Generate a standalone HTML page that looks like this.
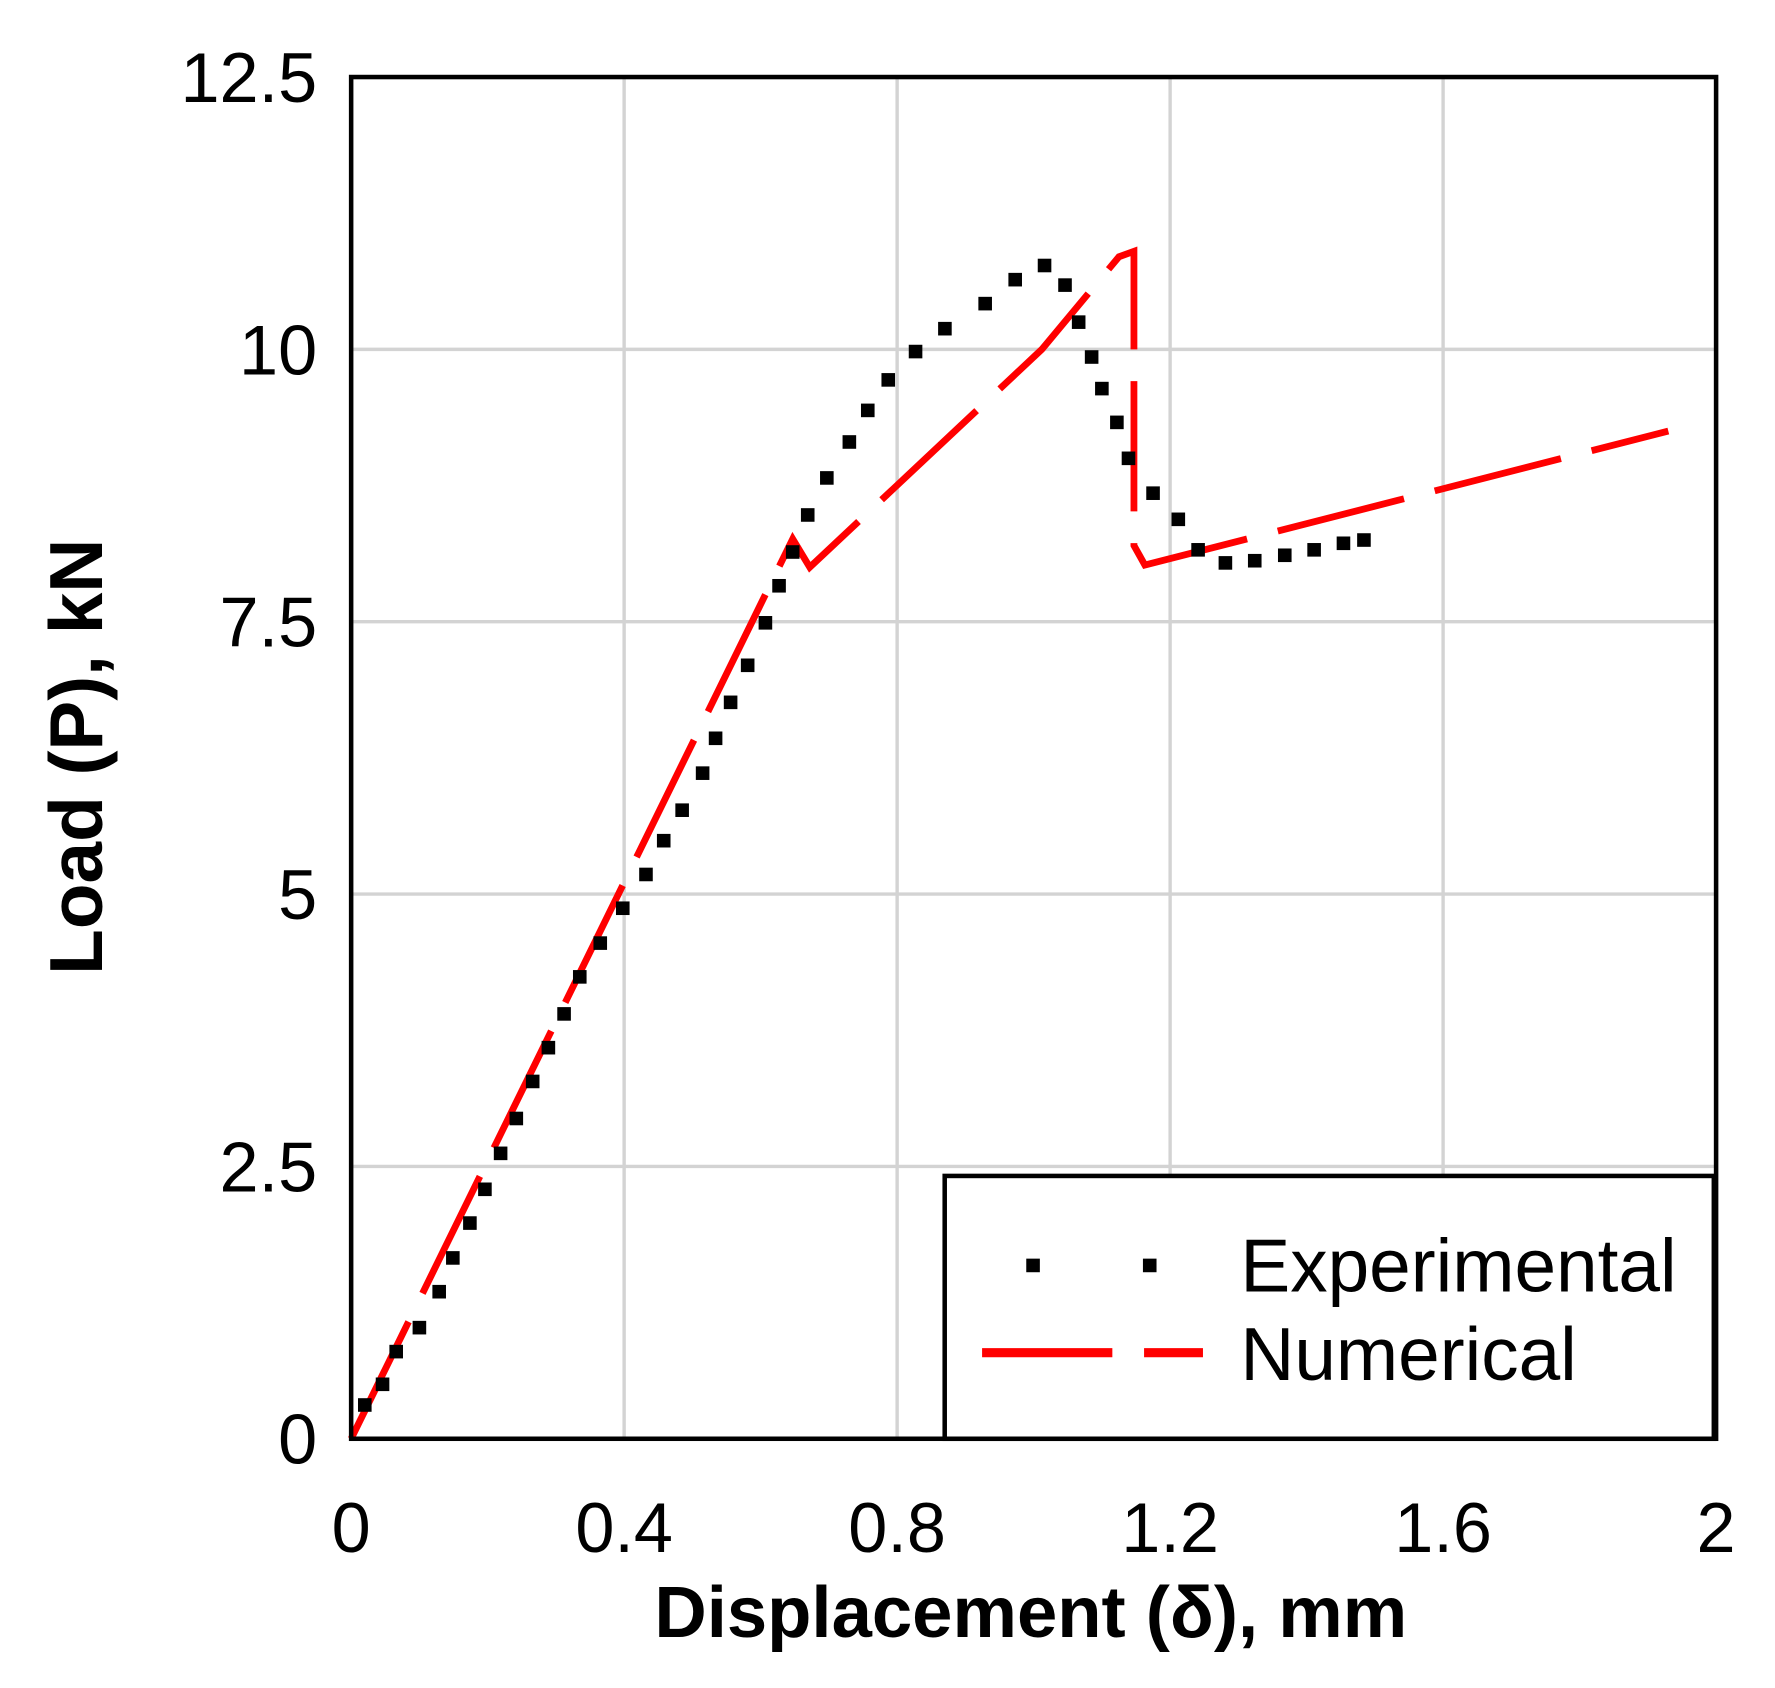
<!DOCTYPE html>
<html><head><meta charset="utf-8"><style>html,body{margin:0;padding:0;background:#fff}svg{display:block}</style></head>
<body>
<svg id="chart" width="1775" height="1688" viewBox="0 0 1567 1490" preserveAspectRatio="none" xmlns="http://www.w3.org/2000/svg" font-family="Liberation Sans, Arial, sans-serif">
<rect width="1567" height="1490" fill="#fff"/>
<g id="grid"></g>
<g id="series"></g>
<rect x="310" y="68" width="1205" height="1202" fill="none" stroke="#000" stroke-width="4"/>
<g id="ticks" font-size="62" fill="#000"></g>
<text x="910" y="1445" font-size="64" font-weight="bold" text-anchor="middle">Displacement (δ), mm</text>
<text transform="translate(90,668) rotate(-90)" font-size="66" font-weight="bold" text-anchor="middle">Load (P), kN</text>
<g>
<rect x="834" y="1038" width="679" height="232" fill="#fff" stroke="#000" stroke-width="4"/>
<rect x="906" y="1111" width="12" height="12" fill="#000"/>
<rect x="1009" y="1111" width="12" height="12" fill="#000"/>
<text x="1095" y="1140" font-size="66">Experimental</text>
<line x1="867" y1="1194" x2="1062" y2="1194" stroke="#f00" stroke-width="8" stroke-dasharray="115 28"/>
<text x="1095" y="1218" font-size="66">Numerical</text>
</g>
</svg>
<script>
const xTicks=[0,0.4,0.8,1.2,1.6,2];
const xTickLabels=["0","0.4","0.8","1.2","1.6","2"];
const yTicks=[0,2.5,5,7.5,10,12.5];
const yTickLabels=["0","2.5","5","7.5","10","12.5"];
const expX=[0.020,0.046,0.066,0.100,0.129,0.149,0.174,0.196,0.219,0.242,0.266,0.289,0.312,0.335,0.365,0.398,0.432,0.458,0.485,0.515,0.534,0.556,0.581,0.607,0.627,0.647,0.669,0.697,0.730,0.757,0.787,0.827,0.870,0.929,0.973,1.016,1.046,1.066,1.085,1.100,1.122,1.139,1.175,1.212,1.241,1.281,1.324,1.368,1.411,1.454,1.484];
const expY=[0.31,0.50,0.80,1.02,1.35,1.66,1.98,2.29,2.62,2.94,3.28,3.59,3.90,4.24,4.55,4.87,5.18,5.49,5.77,6.11,6.43,6.76,7.10,7.49,7.83,8.14,8.48,8.82,9.15,9.44,9.72,9.98,10.19,10.42,10.64,10.77,10.59,10.25,9.93,9.64,9.33,9.00,8.68,8.44,8.16,8.04,8.06,8.11,8.16,8.22,8.25];
const numX=[0,0.647,0.672,1.012,1.125,1.147,1.147,1.163,1.93];
const numY=[0,8.26,8.00,10.0,10.85,10.9,8.2,8.02,9.25];
const NS="http://www.w3.org/2000/svg";
const X0=310,X1=1515,Y0=1270,Y1=68;
function sx(v){return X0+(v-0)/(2-0)*(X1-X0);}
function sy(v){return Y0-(v-0)/(12.5-0)*(Y0-Y1);}
function mk(t,a){const e=document.createElementNS(NS,t);for(const k in a)e.setAttribute(k,a[k]);return e;}
const grid=document.getElementById('grid'),ticks=document.getElementById('ticks'),series=document.getElementById('series');
xTicks.forEach((v,i)=>{
 if(v>0&&v<2){const l=mk('line',{x1:sx(v),x2:sx(v),y1:Y1,y2:Y0,stroke:'#d3d3d3','stroke-width':3});
 
 
 grid.appendChild(l);}
 const t=mk('text',{x:sx(v),y:1370,'text-anchor':'middle'});t.textContent=xTickLabels[i];
 
 
 ticks.appendChild(t);
});
yTicks.forEach((v,i)=>{
 if(v>0&&v<12.5){const l=mk('line',{x1:X0,x2:X1,y1:sy(v),y2:sy(v),stroke:'#d3d3d3','stroke-width':3});
 
 
 grid.appendChild(l);}
 const t=mk('text',{x:280,y:sy(v)+22,'text-anchor':'end'});t.textContent=yTickLabels[i];
 
 
 ticks.appendChild(t);
});
const pts=numX.map((x,i)=>sx(x)+','+sy(numY[i])).join(' ');
const pl=mk('polyline',{points:pts,fill:'none',stroke:'#f00','stroke-width':6,'stroke-dasharray':'115 28'});


series.appendChild(pl);
expX.forEach((x,i)=>{
 const r=mk('rect',{x:sx(x)-6,y:sy(expY[i])-6,width:12,height:12,fill:'#000'});
 
 
 series.appendChild(r);
});
</script>
</body></html>
